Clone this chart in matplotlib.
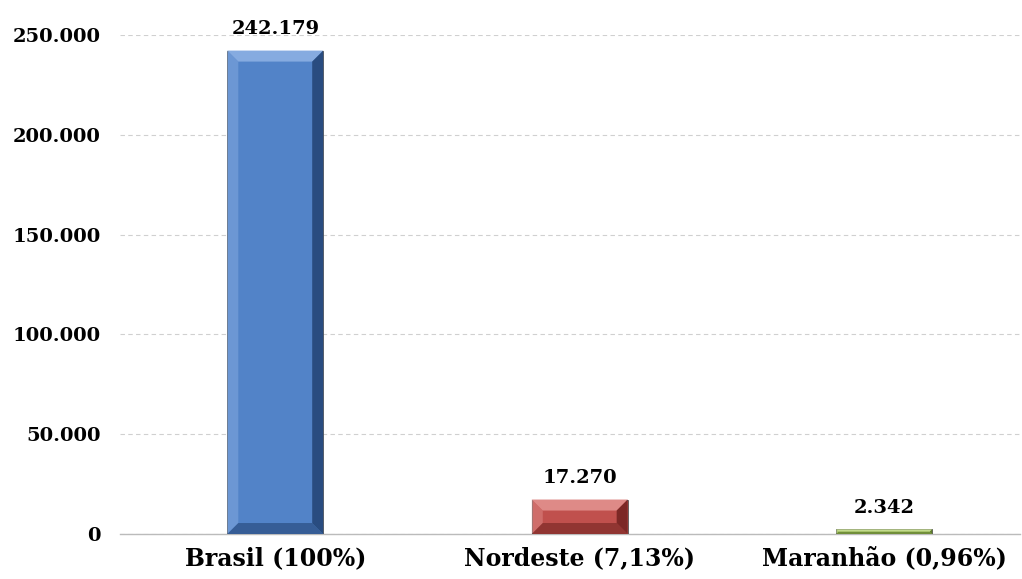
import matplotlib
matplotlib.use("Agg")
import matplotlib.pyplot as plt
from matplotlib.patches import Polygon
from matplotlib.ticker import FuncFormatter

categories = ["Brasil (100%)", "Nordeste (7,13%)", "Maranhão (0,96%)"]
values = [242179, 17270, 2342]
yticks = [0, 50000, 100000, 150000, 200000, 250000]

face = ["#5283C8", "#C0504D", "#9BBB59"]
light = ["#86ABE0", "#DE8A87", "#C3DB8E"]
dark = ["#1F3F6E", "#6B1F1D", "#4F6B22"]

def br(v):
    return f"{int(v):,}".replace(",", ".")

fig = plt.figure(figsize=(10.22, 5.79), dpi=100)
ax = fig.add_axes([0.1174, 0.0777, 0.8806, 0.8619])
serif = "DejaVu Serif"

bars = ax.bar(range(len(values)), values, width=0.315, color=face,
              edgecolor="#555555", linewidth=0.6, zorder=3)
ax.set_xlim(-0.51, 2.446)
ax.set_ylim(0, 250000)
ax.set_yticks(yticks)
ax.yaxis.set_major_formatter(FuncFormatter(lambda v, p: br(v)))
ax.set_xticks(range(len(categories)))
ax.set_xticklabels(categories)
for lab in ax.get_yticklabels():
    lab.set_fontfamily(serif)
    lab.set_fontweight("bold")
    lab.set_fontsize(14)
for lab in ax.get_xticklabels():
    lab.set_fontfamily(serif)
    lab.set_fontweight("bold")
    lab.set_fontsize(17)
ax.tick_params(length=0)
ax.tick_params(axis="y", pad=14)
ax.tick_params(axis="x", pad=9)
for s in ["top", "right", "left"]:
    ax.spines[s].set_visible(False)
ax.spines["bottom"].set_color("#BBBBBB")
ax.spines["bottom"].set_linewidth(1.0)
ax.yaxis.grid(True, linestyle=(0, (4, 3)), color="#D0D0D0", linewidth=0.8, zorder=0)

fig.canvas.draw()
for i, b in enumerate(bars):
    x0, y0 = ax.transData.transform((b.get_x(), 0))
    x1, y1 = ax.transData.transform((b.get_x() + b.get_width(), b.get_height()))
    h = y1 - y0
    d = min(11, h / 2.2)
    ax.add_patch(Polygon([(x0, y1), (x1, y1), (x1 - d, y1 - d), (x0 + d, y1 - d)],
                         closed=True, transform=None, facecolor=light[i], edgecolor="none", zorder=4))
    ax.add_patch(Polygon([(x1, y1), (x1, y0), (x1 - d, y0 + d), (x1 - d, y1 - d)],
                         closed=True, transform=None, facecolor=dark[i], edgecolor="none", zorder=4, alpha=0.8))
    ax.add_patch(Polygon([(x0, y1), (x0, y0), (x0 + d, y0 + d), (x0 + d, y1 - d)],
                         closed=True, transform=None, facecolor=light[i], edgecolor="none", zorder=4, alpha=0.5))
    ax.add_patch(Polygon([(x0, y0), (x1, y0), (x1 - d, y0 + d), (x0 + d, y0 + d)],
                         closed=True, transform=None, facecolor=dark[i], edgecolor="none", zorder=4, alpha=0.55))
    ax.annotate(br(values[i]), (b.get_x() + b.get_width() / 2, b.get_height()),
                xytext=(0, 12), textcoords="offset points", ha="center", va="baseline",
                zorder=5, annotation_clip=False, family=serif, weight="bold", size=14)

fig.savefig("out.png", dpi=100)
